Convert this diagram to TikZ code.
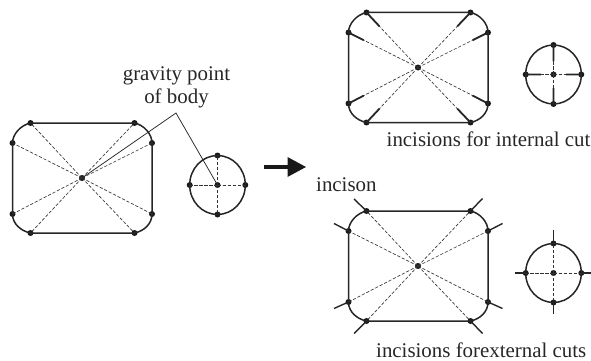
\documentclass[tikz,border=0pt]{standalone}
\usepackage{fontspec}
\setmainfont{Liberation Serif}
\usetikzlibrary{calc}
\tikzset{
  dot/.style={circle,fill=black!90,inner sep=0pt,minimum size=6pt},
  outline/.style={line width=1.5pt,black!85},
  guide/.style={line width=0.65pt,black!80,dash pattern=on 3.2pt off 1.8pt},
  incision/.style={line width=1.8pt,black!85},
  leader/.style={line width=0.75pt,black!85},
  caption/.style={font=\fontsize{20.9}{23}\selectfont,inner sep=0pt,text=black!85}
}
% #1 prefix, #2 dx, #3 dy: body and its section
\newcommand{\bodyfig}[3]{
  \begin{scope}[shift={(#2,#3)}]
    \foreach \n/\x/\y in {tl/30.5/123,tr/134.5/123,ru/152/143,rl/152/214,br/134.5/233,bl/30.5/233,ll/12.5/214,lu/12.5/143,c/82/178}{
      \node[dot] (#1\n) at (\x,\y) {};
    }
    \draw[outline] (#1tl.center) -- (#1tr.center) .. controls (144,125) and (152,134) .. (#1ru.center) -- (#1rl.center)
      .. controls (152,224) and (144,231) .. (#1br.center) -- (#1bl.center)
      .. controls (21,231) and (12.5,224) .. (#1ll.center) -- (#1lu.center)
      .. controls (12.5,134) and (21,125) .. (#1tl.center);
    \foreach \n in {tl,tr,ru,rl,br,bl,ll,lu}{
      \draw[guide] (#1c.center) -- (#1\n.center);
    }
  \end{scope}
}
\newcommand{\secfig}[3]{
  \begin{scope}[shift={(#2,#3)}]
    \foreach \n/\x/\y in {t/0/-29.5,b/0/29.5,l/-27.8/0,r/27.8/0,c/0/0}{
      \node[dot] (#1\n) at (\x,\y) {};
    }
    \draw[outline] (0,0) ellipse [x radius=27.8,y radius=29.5];
    \foreach \n in {t,b,l,r}{
      \draw[guide] (#1c.center) -- (#1\n.center);
    }
  \end{scope}
}
\begin{document}
\begin{tikzpicture}[x=1pt,y=-1pt]
\useasboundingbox (0,0) rectangle (591,361);
% left
\bodyfig{a}{0}{0}
\secfig{as}{217.5}{185}
% top right
\bodyfig{b}{336}{-110.5}
\secfig{bs}{553.5}{74.5}
\foreach \n in {tl,tr,br,bl}{
  \draw[incision] (b\n.center) -- ($(b\n.center)!0.25!(bc.center)$);
}
\foreach \n in {lu,ru,rl,ll}{
  \draw[incision] (b\n.center) -- ($(b\n.center)!0.22!(bc.center)$);
}
\foreach \n in {t,b,l,r}{
  \draw[incision] (bs\n.center) -- ($(bs\n.center)!0.55!(bsc.center)$);
}
% bottom right
\bodyfig{d}{336}{88}
\secfig{ds}{553.5}{273}
\coordinate (e1) at (354,199);
\coordinate (e2) at (482.5,198.5);
\coordinate (e3) at (502.5,223.5);
\coordinate (e4) at (502.5,308.5);
\coordinate (e5) at (482.5,333.5);
\coordinate (e6) at (354,333.5);
\coordinate (e7) at (334,308.5);
\coordinate (e8) at (334,223.5);
\foreach \n/\e in {tl/e1,tr/e2,ru/e3,rl/e4,br/e5,bl/e6,ll/e7,lu/e8}{
  \draw[incision,line width=1.4pt] (d\n.center) -- (\e);
}
\coordinate (f1) at (553.5,230);
\coordinate (f2) at (553.5,314);
\coordinate (f3) at (515,273);
\coordinate (f4) at (591,273);
\draw[incision,line width=1.4pt] (dst.center) -- (f1);
\draw[incision,line width=1.4pt] (dsb.center) -- (f2);
\draw[incision,line width=1.4pt] (dsl.center) -- (f3);
\draw[incision,line width=1.4pt] (dsr.center) -- (f4);
% leader
\coordinate (knee) at (176,113);
\draw[leader] (ac.center) -- (knee) -- (asc.center);
% arrow
\coordinate (ar1) at (264,167);
\coordinate (ar2) at (287.5,167);
\coordinate (ar3) at (306,167);
\draw[line width=3.4pt,black!90] (ar1) -- (ar2);
\fill[black!90] (287.5,157) -- (ar3) -- (287.5,177) -- cycle;
% labels
\node[caption] (g1) at (176.5,75.5) {gravity point};
\node[caption] (g2) at (176.5,98.5) {of body};
\node[caption,anchor=west] (c1) at (386.5,139.5) {incisions for internal cut};
\node[caption,anchor=west] (c2) at (316,185) {incison};
\node[caption,anchor=west] (c3) at (376,350) {incisions forexternal cuts};
\end{tikzpicture}
\end{document}
